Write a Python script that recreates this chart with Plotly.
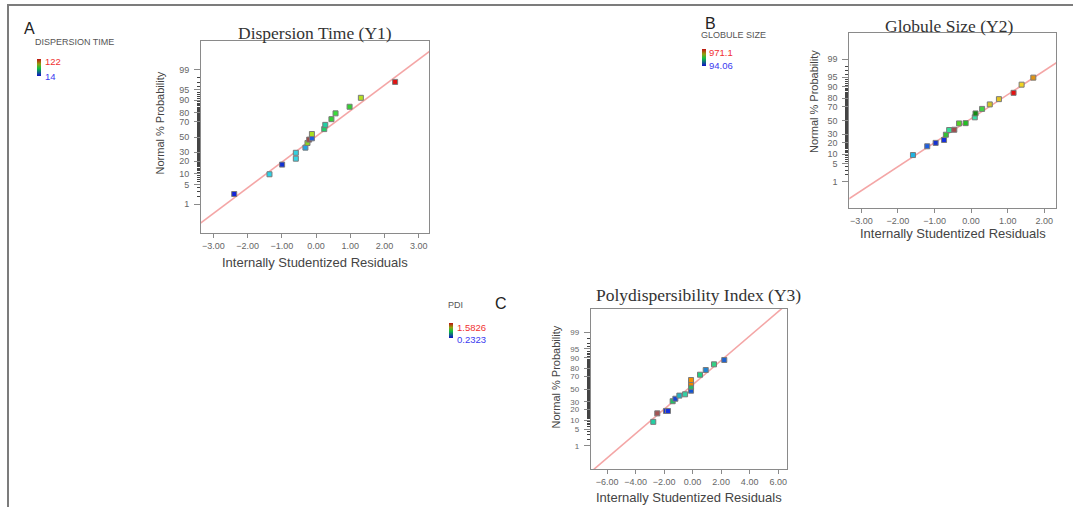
from statistics import NormalDist
import plotly.graph_objects as go

# ---- data: internally studentized residuals vs. normal % probability ----
A_RESID = [-2.39, -1.36, -0.99, -0.59, -0.59, -0.31, -0.25, -0.20, -0.12, -0.12,
           0.24, 0.27, 0.45, 0.57, 0.98, 1.31, 2.31]
A_PROB = [2.4, 9.8, 16.9, 22.6, 29.2, 35.6, 41.8, 46.4, 48.2, 54.1,
          60.8, 66.3, 73.2, 79.4, 85.3, 91.3, 97.2]

B_RESID = [-1.59, -1.20, -0.97, -0.74, -0.69, -0.60, -0.46, -0.33, -0.15, 0.10,
           0.12, 0.30, 0.51, 0.76, 1.16, 1.38, 1.70]
B_PROB = [9.5, 16.4, 19.8, 23.0, 29.5, 35.9, 36.3, 45.6, 46.0, 54.8,
          60.6, 67.0, 72.9, 79.1, 85.3, 91.3, 94.8]

C_RESID = [-2.76, -2.48, -1.87, -1.73, -1.40, -1.21, -0.93, -0.53, -0.11, -0.11,
           -0.11, -0.11, 0.52, 0.92, 1.50, 2.22]
C_PROB = [8.9, 15.9, 18.4, 18.4, 30.8, 34.5, 39.3, 41.4, 47.2, 53.7,
          59.2, 64.4, 72.1, 78.2, 84.4, 88.3]

# reference lines (normal quantile = intercept + slope * residual)
LINE_A = (0.02, 0.89)
LINE_B = (0.07, 0.91)
LINE_C = (0.17, 0.50)

# colour-legend ranges
RANGE_A = ("122", "14")
RANGE_B = ("971.1", "94.06")
RANGE_C = ("1.5826", "0.2323")

PROB_TICKS = [1, 5, 10, 20, 30, 50, 70, 80, 90, 95, 99]
PROB_MINOR = list(range(1, 100))

# ---- styling ----
COLORS_A = ["#1426d8", "#2ad2e6", "#1432d2", "#34d6e6", "#34d0e0", "#22a4e4",
            "#8cd424", "#a04848", "#1e5ee0", "#a8e020", "#22cc66", "#22d0a4",
            "#34d234", "#3ade3a", "#32d232", "#b4e020", "#e01212"]
COLORS_B = ["#22b4e2", "#1e5ee0", "#1430d2", "#1430e0", "#34c034", "#34e096",
            "#a44a4a", "#54d222", "#22c022", "#34e0a4", "#148a14", "#44d044",
            "#d4c424", "#e4c424", "#e41212", "#f2d422", "#e09414"]
COLORS_C = ["#22d0a4", "#a45454", "#1430e0", "#1430e0", "#22c064", "#1444d2",
            "#22b2c2", "#34d0a4", "#1454d2", "#22c064", "#f08200", "#f49000",
            "#22d084", "#2284d2", "#34d084", "#1e62d2"]

W, H = 1073, 507
nd = NormalDist()


def z(p):
    return nd.inv_cdf(p / 100.0)


def fx(px):
    return px / W


def fy(py):
    return 1 - py / H


AXIS_COLOR = "#8a8a8a"

fig = go.Figure()

panels = [
    # name, resid, prob, colors, line, xrange, yrange, box px (l, r, t, b), tick size
    ("", A_RESID, A_PROB, COLORS_A, LINE_A, [-3.36, 3.30], [-3.34, 3.34],
     (201, 429, 40.7, 233.3), 9),
    ("2", B_RESID, B_PROB, COLORS_B, LINE_B, [-3.33, 2.32], [-3.33, 3.33],
     (849.3, 1056, 32.7, 208.3), 9),
    ("3", C_RESID, C_PROB, COLORS_C, LINE_C, [-7.15, 6.60], [-3.28, 3.28],
     (590.7, 786.7, 309, 469), 8),
]

for name, resid, prob, colors, line, xr, yr, box, fs in panels:
    xa, ya = "x" + name, "y" + name
    tick_font = dict(family="Liberation Sans, Arial", size=fs, color="#666666")
    b0, b1 = line
    lx = [xr[0] - 1, xr[1] + 1]
    fig.add_trace(go.Scatter(
        x=lx, y=[b0 + b1 * v for v in lx], xaxis=xa, yaxis=ya, mode="lines",
        line=dict(color="#f4a6a6", width=1.6), hoverinfo="skip", showlegend=False))
    fig.add_trace(go.Scatter(
        x=resid, y=[z(p) for p in prob], xaxis=xa, yaxis=ya, mode="markers",
        marker=dict(symbol="square", size=5, color=colors,
                    line=dict(color="#7a7a7a", width=1)),
        showlegend=False))
    l, r, t, b = box
    dtick = 2 if name == "3" else 1
    fig.layout["xaxis" + name] = dict(
        domain=[fx(l), fx(r)], range=xr, anchor=ya, tickmode="linear", tick0=0,
        dtick=dtick, tickformat=".2f", ticks="outside", ticklen=4,
        tickcolor=AXIS_COLOR, tickfont=dict(tick_font, size=9), showline=True,
        mirror=True, linecolor=AXIS_COLOR, linewidth=1, showgrid=False,
        zeroline=False, fixedrange=True)
    fig.layout["yaxis" + name] = dict(
        domain=[fy(b), fy(t)], range=yr, anchor=xa, tickmode="array",
        tickvals=[z(p) for p in PROB_TICKS], ticktext=[str(p) for p in PROB_TICKS],
        ticks="outside", ticklen=6, tickcolor=AXIS_COLOR, tickfont=tick_font,
        ticklabelstandoff=3,
        minor=dict(tickmode="array", tickvals=[z(p) for p in PROB_MINOR],
                   ticks="outside", ticklen=3, tickcolor="#444444", tickwidth=1),
        showline=True, mirror=True, linecolor=AXIS_COLOR, linewidth=1,
        showgrid=False, zeroline=False, fixedrange=True)

# small colour legends (high value on top)
SCALE = [[0, "#1010c8"], [0.45, "#10c040"], [0.7, "#90a010"], [1, "#c01010"]]
legends = [
    ("coloraxis", 36.7, 67.5, 17),
    ("coloraxis2", 701.7, 57.5, 17),
    ("coloraxis3", 449.0, 330.0, 15),
]
for cax, px, pyc, ln in legends:
    fig.add_trace(go.Scatter(
        x=[None], y=[None], mode="markers", showlegend=False,
        marker=dict(color=[0], coloraxis=cax)))
    fig.layout[cax] = dict(
        colorscale=SCALE, cmin=0, cmax=1,
        colorbar=dict(x=fx(px), xanchor="left", y=fy(pyc), yanchor="middle",
                      thickness=4, thicknessmode="pixels", len=ln,
                      lenmode="pixels", xpad=0, ypad=0, outlinewidth=0,
                      showticklabels=False, ticks=""))

ann = []


def text(px, py, s, size, color="#333333", family="Liberation Sans, Arial",
         xanchor="center", angle=0):
    ann.append(dict(x=fx(px), y=fy(py), xref="paper", yref="paper", text=s,
                    showarrow=False, xanchor=xanchor, yanchor="middle",
                    textangle=angle, font=dict(family=family, size=size,
                                               color=color)))


SERIF = "Liberation Serif, Times New Roman"
# chart titles
text(314.5, 32.5, "Dispersion Time (Y1)", 17.5, "#333333", SERIF)
text(949, 26, "Globule Size (Y2)", 17.5, "#333333", SERIF)
text(698, 295, "Polydispersibility Index (Y3)", 17.5, "#333333", SERIF)
# axis titles
for cx, cy in [(315, 262), (952.5, 233.5), (688.5, 497.5)]:
    text(cx, cy, "Internally Studentized Residuals", 13, "#444444")
for cx, cy in [(159.5, 123), (814, 102), (555.5, 377)]:
    text(cx, cy, "Normal % Probability", 11, "#444444", angle=-90)
# panel letters and legend headings
text(22, 28.5, "A", 16, "#222222", xanchor="left")
text(703, 23, "B", 16, "#222222", xanchor="left")
text(492.5, 303, "C", 16, "#222222", xanchor="left")
text(33, 42, "DISPERSION TIME", 9, "#555555", xanchor="left")
text(699, 35, "GLOBULE SIZE", 9, "#555555", xanchor="left")
text(446, 305, "PDI", 9, "#555555", xanchor="left")
for (hi, lo), px, pyh, pyl in [(RANGE_A, 43, 62, 76), (RANGE_B, 707, 53, 65),
                               (RANGE_C, 455, 327.5, 339)]:
    text(px, pyh, hi, 9.5, "#f03030", xanchor="left")
    text(px, pyl, lo, 9.5, "#3a3af0", xanchor="left")

fig.update_layout(
    width=W, height=H, margin=dict(l=0, r=0, t=0, b=0),
    paper_bgcolor="white", plot_bgcolor="white", annotations=ann,
    shapes=[
        dict(type="line", xref="paper", yref="paper", x0=fx(7), x1=1,
             y0=fy(5), y1=fy(5), line=dict(color="#7c7c7c", width=2)),
        dict(type="line", xref="paper", yref="paper", x0=fx(8), x1=fx(8),
             y0=fy(4), y1=0, line=dict(color="#7c7c7c", width=2)),
    ],
)

fig.write_html("out.html")
